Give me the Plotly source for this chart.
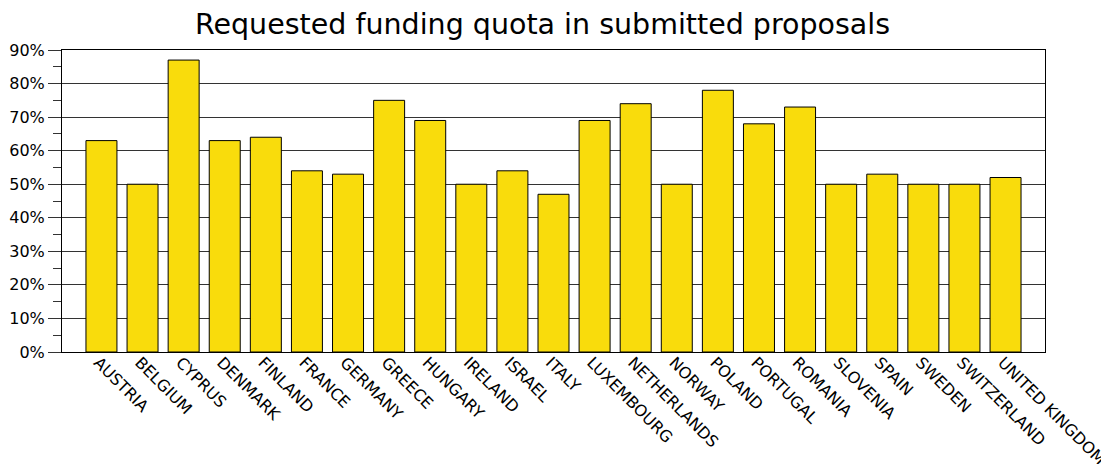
import plotly.graph_objects as go

countries = ["AUSTRIA", "BELGIUM", "CYPRUS", "DENMARK", "FINLAND", "FRANCE", "GERMANY",
             "GREECE", "HUNGARY", "IRELAND", "ISRAEL", "ITALY", "LUXEMBOURG", "NETHERLANDS",
             "NORWAY", "POLAND", "PORTUGAL", "ROMANIA", "SLOVENIA", "SPAIN", "SWEDEN",
             "SWITZERLAND", "UNITED KINGDOM"]
quota = [63, 50, 87, 63, 64, 54, 53, 75, 69, 50, 54, 47, 69, 74, 50, 78, 68, 73, 50, 53, 50, 50, 52]

fig = go.Figure(go.Bar(
    x=countries, y=quota,
    marker=dict(color="#F9DC0C", line=dict(color="#000000", width=1)),
    hovertemplate="%{x}: %{y}%<extra></extra>",
))

fig.update_layout(
    width=1101, height=456,
    margin=dict(l=54, r=64, t=42, b=112),
    paper_bgcolor="white", plot_bgcolor="white",
    bargap=0.246,
    showlegend=False,
    font=dict(family="DejaVu Sans", color="#000000"),
    title=dict(text="Requested funding quota in submitted proposals",
               x=0.4855, xanchor="center", y=0.965, yanchor="middle",
               font=dict(family="DejaVu Sans", size=28.5, color="#000000")),
)
fig.update_xaxes(
    automargin=False,
    range=[-0.96, len(countries) - 0.04],
    tickangle=45, tickfont=dict(size=16),
    ticklabelstandoff=-6, ticklabelshift=-3,
    showline=True, linecolor="#000000", linewidth=1, mirror=True,
    ticks="", showgrid=False,
)
fig.update_yaxes(
    automargin=False,
    range=[0, 90], dtick=10, ticksuffix="%",
    tickfont=dict(size=16),
    showline=True, linecolor="#000000", linewidth=1, mirror=True,
    ticks="outside", ticklen=13, tickcolor="#333333",
    showgrid=True, gridcolor="#333333", gridwidth=1,
    zeroline=False,
    minor=dict(dtick=5, ticks="outside", ticklen=8, tickcolor="#333333", showgrid=False),
)

fig.write_html("out.html")
